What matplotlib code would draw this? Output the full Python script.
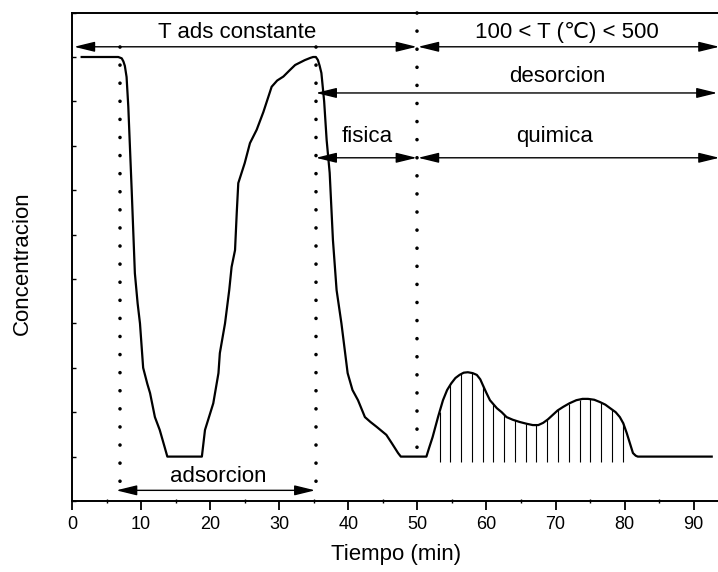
import numpy as np
import matplotlib
matplotlib.use("Agg")
import matplotlib.pyplot as plt
from matplotlib.ticker import MultipleLocator

plt.rcParams['font.family'] = ['Liberation Sans', 'DejaVu Sans']

# ---- data ----
tiempo = [1.4, 6.7, 7.2, 7.44, 7.65, 7.9, 8.15, 8.64, 9.1, 9.5, 9.84, 10.3, 10.9, 11.3,
          12.0, 12.7, 13.4, 13.8, 18.8, 19.25, 20.45, 21.2, 21.4, 22.15, 22.76, 23.1,
          23.6, 23.85, 24.07, 25.0, 25.76, 26.73, 27.7, 28.9, 29.7, 30.6, 31.5,
          32.3, 33.7, 34.5, 34.9, 35.3, 35.6, 35.85, 36.1, 36.5, 36.86, 37.3, 37.77,
          38.3, 39.0, 39.9, 40.6, 41.4, 42.4, 43.2, 44.1, 45.5, 46.3, 47.2, 47.6,
          51.3, 51.7, 52.2, 53.0, 53.7, 54.3, 54.9, 55.5, 56.1, 56.7, 57.3, 58.0,
          58.6, 59.1, 59.5, 60.0, 60.5, 61.5, 62.2, 62.9, 63.8, 64.8, 65.8, 66.7,
          67.5, 68.2, 68.9, 69.6, 70.3, 71.1, 72.0, 73.0, 73.9, 74.7, 75.6, 76.4,
          77.2, 77.9, 78.7, 79.3, 79.8, 80.3, 80.8, 81.2, 81.6, 81.9, 92.6]
concentracion = [10.0, 10.0, 9.97, 9.9, 9.8, 9.55, 8.88, 7.0, 5.13, 4.45, 4.0, 3.0,
                 2.64, 2.43, 1.89, 1.6, 1.22, 1.0, 1.0, 1.6, 2.2, 2.88, 3.33, 4.0,
                 4.75, 5.27, 5.65, 6.5, 7.16, 7.61, 8.06, 8.36, 8.76, 9.33, 9.47,
                 9.56, 9.7, 9.82, 9.93, 9.98, 10.0, 10.0, 9.93, 9.8, 9.64, 9.0, 8.13,
                 7.39, 5.88, 4.75, 4.0, 2.88, 2.5, 2.27, 1.89, 1.78, 1.67, 1.49, 1.3,
                 1.08, 1.0, 1.0, 1.2, 1.44, 1.9, 2.27, 2.5, 2.65, 2.77, 2.84, 2.89,
                 2.9, 2.88, 2.84, 2.74, 2.6, 2.43, 2.27, 2.09, 2.0, 1.89, 1.83, 1.78,
                 1.74, 1.71, 1.71, 1.76, 1.84, 1.94, 2.04, 2.12, 2.2, 2.27, 2.3, 2.3,
                 2.28, 2.23, 2.17, 2.09, 2.0, 1.89, 1.75, 1.53, 1.28, 1.08, 1.02, 1.0,
                 1.0]
base = 1.0

# vertical dotted markers (min)
t_inicio_ads = 6.95
t_fin_ads = 35.3
t_rampa = 50.0

# hatched region (chemical desorption)
hatch_desde = 53.2
hatch_hasta = 79.7
n_hatch = 18

x_max = 93.8


def dotted(ax, x, y0, y1):
    ax.plot([x, x], [y0, y1], color='black', lw=2.6,
            linestyle=(0, (0.01, 5.0)), dash_capstyle='round', clip_on=False)


def flecha(ax, x0, x1, y, style='<|-|>'):
    ax.annotate('', xy=(x1, y), xytext=(x0, y), annotation_clip=False,
                arrowprops=dict(arrowstyle=style + ',head_length=0.9,head_width=0.22',
                                color='black', lw=1.0, shrinkA=0, shrinkB=0,
                                mutation_scale=14))


fig = plt.figure(figsize=(7.18, 5.72), dpi=100)
ax = fig.add_axes([72 / 718, 71 / 572, (720 - 72) / 718, 488.4 / 572])

ax.plot(tiempo, concentracion, color='black', lw=1.6, solid_joinstyle='round')

# hatch lines under the second part of the curve
xs = np.linspace(hatch_desde, hatch_hasta, n_hatch)
ys = np.interp(xs, tiempo, concentracion)
ax.vlines(xs, base - 0.12, ys, color='black', lw=0.8)

# dotted vertical lines
dotted(ax, t_inicio_ads, 10.23, 0.4)
dotted(ax, t_fin_ads, 10.23, 0.4)
dotted(ax, t_rampa, 11.0, 1.2)

# arrows
flecha(ax, 0.3, t_rampa - 0.1, 10.23)
flecha(ax, t_rampa + 0.1, 93.7, 10.23)
flecha(ax, t_fin_ads, 93.4, 9.19)
flecha(ax, t_fin_ads, t_rampa - 0.1, 7.73)
flecha(ax, t_rampa + 0.1, 93.7, 7.73)
flecha(ax, 6.4, t_fin_ads - 0.1, 0.24)

fs = 16
ax.text(23.9, 10.56, 'T ads constante', fontsize=fs, ha='center', va='center')
ax.text(71.6, 10.56, '100 < T (\u2103) < 500', fontsize=fs, ha='center', va='center')
ax.text(70.2, 9.55, 'desorcion', fontsize=fs, ha='center', va='center')
ax.text(42.7, 8.22, 'fisica', fontsize=fs, ha='center', va='center')
ax.text(69.9, 8.22, 'quimica', fontsize=fs, ha='center', va='center')
ax.text(21.1, 0.55, 'adsorcion', fontsize=fs, ha='center', va='center')

ax.set_xlim(0, x_max)
ax.set_ylim(0, 11)
ax.xaxis.set_major_locator(MultipleLocator(10))
ax.xaxis.set_minor_locator(MultipleLocator(5))
ax.yaxis.set_major_locator(MultipleLocator(1))
ax.tick_params(axis='x', which='major', direction='out', length=6.5, width=1.3,
               labelsize=13, pad=4)
ax.tick_params(axis='x', which='minor', direction='inout', length=3, width=1.0)
ax.tick_params(axis='y', which='major', direction='in', length=3, width=1.0,
               labelleft=False)
for s in ax.spines.values():
    s.set_linewidth(1.4)

ax.set_xlabel('Tiempo (min)', fontsize=fs, labelpad=8)
fig.text(22 / 718, 0.54, 'Concentracion', fontsize=fs, rotation=90,
         ha='center', va='center')

fig.savefig('out.png', dpi=100)
